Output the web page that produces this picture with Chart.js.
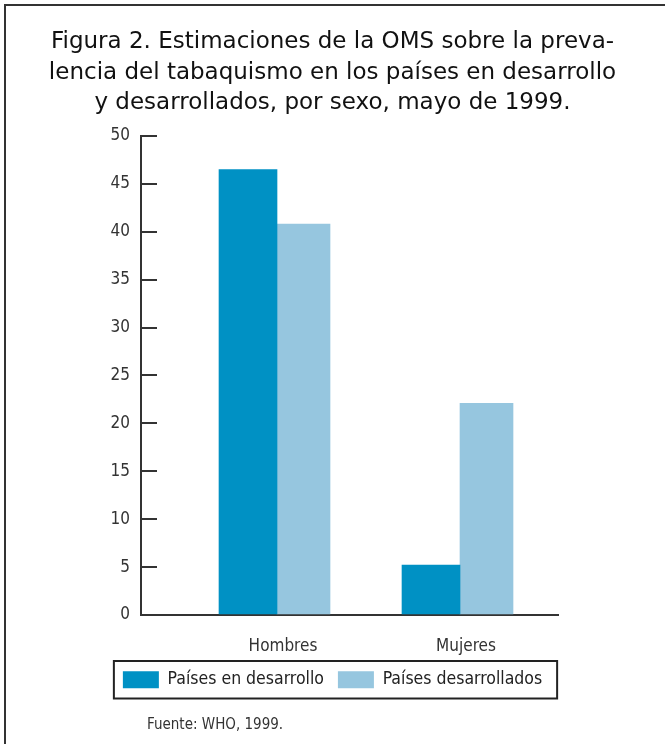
<!DOCTYPE html>
<html lang="es">
<head>
<meta charset="utf-8">
<title>Figura 2</title>
<script src="https://cdn.jsdelivr.net/npm/chart.js@4.4.1/dist/chart.umd.min.js"></script>
<style>
    html, body { margin: 0; padding: 0; background: #fff; overflow: hidden; }
    #marco { position: absolute; left: 4px; top: 4px; width: 1000px; height: 1000px; border: 2px solid #333; pointer-events: none; }
    #grafica { position: absolute; left: 0; top: 0; }
    #fuente { position: absolute; left: 147px; top: 714px; font: 15px 'DejaVu Sans Condensed', sans-serif; color: #333; line-height: 20px; }
</style>
</head>
<body>
<canvas id="grafica"></canvas>
<div id="marco"></div>
<div id="fuente">Fuente: WHO, 1999.</div>
<script>
// Datos
const categorias = ["Hombres", "Mujeres"];
const enDesarrollo = [46.5, 5.2];
const desarrollados = [40.8, 22.1];
const nombresSeries = ["Países en desarrollo", "Países desarrollados"];
const ticksY = [0, 5, 10, 15, 20, 25, 30, 35, 40, 45, 50];
const titulo = [
    "Figura 2. Estimaciones de la OMS sobre la preva-",
    "lencia del tabaquismo en los países en desarrollo",
    "y desarrollados, por sexo, mayo de 1999."
];

document.addEventListener("DOMContentLoaded", function () {
    const canvas = document.getElementById("grafica");
    canvas.width = 665;
    canvas.height = 744;

    Chart.defaults.font.family = "'DejaVu Sans Condensed', sans-serif";
    Chart.defaults.color = "#333";

    // Marco negro alrededor de la leyenda
    const marcoLeyenda = {
        id: "marcoLeyenda",
        afterDraw(chart) {
            const cajas = chart.legend.legendHitBoxes;
            if (!cajas || !cajas.length) return;
            const izq = Math.min(...cajas.map(c => c.left));
            const der = Math.max(...cajas.map(c => c.left + c.width));
            const arr = Math.min(...cajas.map(c => c.top));
            const aba = Math.max(...cajas.map(c => c.top + c.height));
            const ctx = chart.ctx;
            ctx.save();
            ctx.strokeStyle = "#222";
            ctx.lineWidth = 2;
            ctx.strokeRect(izq - 9, arr - 10, der - izq + 24, aba - arr + 20);
            ctx.restore();
        }
    };

    const aPuntos = valores => valores.map((v, i) => ({ x: i, y: v }));

    new Chart(canvas, {
        type: "bar",
        data: {
            datasets: [
                {
                    label: nombresSeries[0],
                    data: aPuntos(enDesarrollo),
                    backgroundColor: "rgb(0, 145, 196)",
                    barThickness: 58
                },
                {
                    label: nombresSeries[1],
                    data: aPuntos(desarrollados),
                    backgroundColor: "rgb(150, 198, 223)",
                    barThickness: 53
                }
            ]
        },
        plugins: [marcoLeyenda],
        options: {
            responsive: false,
            animation: false,
            layout: {
                padding: { left: 0, right: 0, top: 0, bottom: 45.5 }
            },
            plugins: {
                tooltip: { enabled: false },
                title: {
                    display: true,
                    text: titulo,
                    color: "#111",
                    font: { family: "'DejaVu Sans', sans-serif", size: 23, weight: "normal", lineHeight: 1.326 },
                    padding: { top: 27, bottom: 17.5 }
                },
                legend: {
                    display: true,
                    position: "bottom",
                    labels: {
                        boxWidth: 36,
                        boxHeight: 17,
                        padding: 14,
                        color: "#222",
                        font: { size: 17.5 }
                    }
                }
            },
            scales: {
                x: {
                    type: "linear",
                    offset: false,
                    min: -0.7432,
                    max: 1.5355,
                    afterBuildTicks: function (escala) {
                        escala.ticks = categorias.map((c, i) => ({ value: i }));
                    },
                    afterFit: function (escala) {
                        escala.height = 42;
                    },
                    grid: { display: false },
                    border: { display: true, color: "#333", width: 2 },
                    ticks: {
                        callback: function (valor) { return categorias[valor]; },
                        font: { size: 17 },
                        color: "#333",
                        padding: 13,
                        labelOffset: 6,
                        autoSkip: false,
                        maxRotation: 0
                    }
                },
                y: {
                    min: 0,
                    max: 50,
                    afterBuildTicks: function (escala) {
                        escala.ticks = ticksY.map(v => ({ value: v }));
                    },
                    afterFit: function (escala) {
                        escala.width = 141;
                    },
                    grid: {
                        drawOnChartArea: false,
                        drawTicks: true,
                        tickLength: -16,
                        color: "#333",
                        lineWidth: 2
                    },
                    border: { display: true, color: "#333", width: 2 },
                    ticks: {
                        font: { size: 17 },
                        color: "#333",
                        padding: 27
                    }
                },
                derecha: {
                    position: "right",
                    display: true,
                    grid: { display: false },
                    border: { display: false },
                    ticks: { display: false },
                    afterFit: function (escala) {
                        escala.width = 107;
                    }
                }
            }
        }
    });
});
</script>
</body>
</html>
